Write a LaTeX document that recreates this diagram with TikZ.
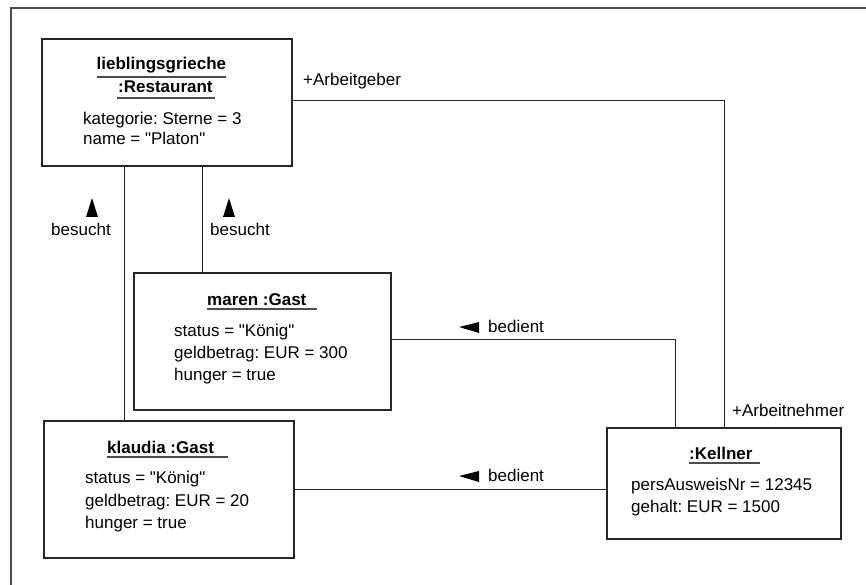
\documentclass[tikz,border=0pt]{standalone}
\usepackage{fontspec}
\setmainfont{Liberation Sans}[Ligatures=TeXOff]
\frenchspacing
\begin{document}
\begin{tikzpicture}[x=1pt,y=-1pt,
  box/.style={draw=black!85, line width=1.2pt, rectangle, inner sep=0pt},
  txt/.style={anchor=base west, inner sep=0pt, font=\fontsize{17}{20}\selectfont},
  ttl/.style={anchor=base west, inner sep=0pt, font=\fontsize{17}{20}\selectfont\bfseries},
  conn/.style={draw=black!85, line width=0.9pt},
  ul/.style={draw=black!70, line width=1.2pt},
  frm/.style={draw=black!70, line width=1.6pt},
  tri/.style={fill=black}]
\useasboundingbox (0,0) rectangle (866,585);
% frame
\draw[frm] (11,585) -- (11,8) -- (866,8);

% boxes
\node[box, minimum width=250pt, minimum height=127pt] (rest) at (167,102.5) {};
\node[box, minimum width=257pt, minimum height=137pt] (maren) at (262.5,341.5) {};
\node[box, minimum width=250pt, minimum height=137pt] (klaudia) at (169,489.5) {};
\node[box, minimum width=234pt, minimum height=111pt] (kellner) at (724,483.5) {};

% Restaurant texts
\node[ttl] (rt1) at (96.5,70) {lieblingsgrieche};
\draw[ul] ([yshift=-7pt]rt1.base west) -- ([yshift=-7pt]rt1.base east);
\node[ttl] (rt2) at (118,93) {:Restaurant};
\draw[ul] ([yshift=-5pt,xshift=-1pt]rt2.base west) -- ([yshift=-5pt,xshift=2pt]rt2.base east);
\node[txt] (ra1) at (83,125) {kategorie: Sterne = 3};
\node[txt] (ra2) at (83,145) {name = "Platon"};

% maren texts
\node[ttl] (mt) at (207,305) {maren :Gast};
\draw[ul] ([yshift=-4pt]mt.base west) -- ([yshift=-4pt,xshift=10pt]mt.base east);
\node[txt] (ma1) at (174,336) {status = "König"};
\node[txt] (ma2) at (174,358) {geldbetrag: EUR = 300};
\node[txt] (ma3) at (174,380) {hunger = true};

% klaudia texts
\node[ttl] (kt) at (107,453) {klaudia :Gast};
\draw[ul] ([yshift=-4pt]kt.base west) -- ([yshift=-4pt,xshift=14pt]kt.base east);
\node[txt] (ka1) at (85,483) {status = "König"};
\node[txt] (ka2) at (85,506) {geldbetrag: EUR = 20};
\node[txt] (ka3) at (85,528) {hunger = true};

% Kellner texts
\node[ttl] (et) at (689,459) {:Kellner};
\draw[ul] ([yshift=-4pt]et.base west) -- ([yshift=-4pt,xshift=7pt]et.base east);
\node[txt] (ea1) at (631,490) {persAusweisNr = 12345};
\node[txt] (ea2) at (631,512) {gehalt: EUR = 1500};

% connectors
\coordinate (xa) at (124,0);
\coordinate (xb) at (202,0);
\coordinate (xc) at (675,0);
\coordinate (xd) at (724,0);
\draw[conn] (rest.south -| xa) -- (klaudia.north -| xa);
\draw[conn] (rest.south -| xb) -- (maren.north -| xb);
\draw[conn] (rest.east |- 0,100) -| (kellner.north -| xd);
\draw[conn] (maren.east |- 0,339) -| (kellner.north -| xc);
\draw[conn] (klaudia.east |- 0,489) -- (kellner.west |- 0,489);

% connector labels
\node[txt] (lag) at (303,86) {+Arbeitgeber};
\node[txt] (lan) at (732,416) {+Arbeitnehmer};
\node[txt] (lb1) at (51,235) {besucht};
\node[txt] (lb2) at (210,235) {besucht};
\node[txt] (ld1) at (488,332) {bedient};
\node[txt] (ld2) at (488,481) {bedient};

% direction triangles
\fill[tri] (86,217) -- (98,217) -- (92,198) -- cycle;
\fill[tri] (223,217) -- (235,217) -- (229,198) -- cycle;
\fill[tri] (459,327) -- (479,322) -- (479,333) -- cycle;
\fill[tri] (459,476) -- (479,471) -- (479,482) -- cycle;
\end{tikzpicture}
\end{document}
